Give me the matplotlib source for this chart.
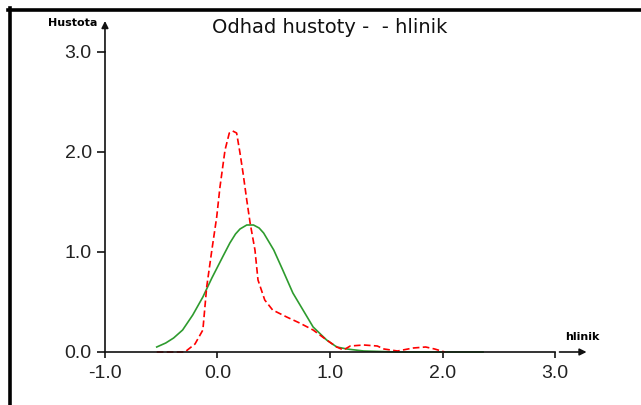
import matplotlib
matplotlib.use("Agg")
from matplotlib import pyplot as plt
from matplotlib.lines import Line2D

plt.rcParams['font.family'] = ['Liberation Sans', 'DejaVu Sans']

# red dashed density estimate
red_x = [-0.54, -0.29, -0.2, -0.13, -0.096, -0.05, -0.007, 0.022, 0.067, 0.105, 0.135,
         0.17, 0.2, 0.227, 0.26, 0.29, 0.333, 0.36, 0.42, 0.49, 0.615, 0.73, 0.85,
         0.97, 1.06, 1.12, 1.18, 1.3, 1.42, 1.48, 1.6, 1.74, 1.85, 1.93, 2.02]
red_y = [0.0, 0.0, 0.08, 0.22, 0.65, 1.02, 1.35, 1.65, 2.02, 2.19, 2.21,
         2.19, 1.99, 1.79, 1.52, 1.29, 1.02, 0.72, 0.52, 0.42, 0.35, 0.29, 0.22,
         0.12, 0.05, 0.02, 0.06, 0.07, 0.06, 0.03, 0.01, 0.04, 0.05, 0.03, 0.0]

# green solid density estimate
green_x = [-0.54, -0.46, -0.39, -0.31, -0.22, -0.13, -0.05, 0.0, 0.05, 0.11, 0.16, 0.2,
           0.26, 0.32, 0.37, 0.41, 0.5, 0.58, 0.67, 0.76, 0.85, 0.97, 1.06, 1.15,
           1.3, 1.6, 2.0, 2.36]
green_y = [0.05, 0.09, 0.14, 0.22, 0.37, 0.55, 0.74, 0.85, 0.96, 1.09, 1.18, 1.23,
           1.27, 1.27, 1.24, 1.19, 1.02, 0.82, 0.59, 0.42, 0.25, 0.12, 0.05, 0.03,
           0.01, 0.0, 0.0, 0.0]

x_ticks = [-1.0, 0.0, 1.0, 2.0, 3.0]
y_ticks = [0.0, 1.0, 2.0, 3.0]

fig = plt.figure(figsize=(6.41, 4.05), dpi=100)
ax = fig.add_axes([0, 0, 1, 1])
ax.set_xlim(-1.933, 3.764)
ax.set_ylim(-0.53, 3.52)

ax.plot(green_x, green_y, color='#2e9b2e', lw=1.2)
ax.plot(red_x, red_y, color='#ff0000', lw=1.2, dashes=(4, 2))

for s in ['top', 'right']:
    ax.spines[s].set_visible(False)
ax.spines['left'].set_position(('data', -1.0))
ax.spines['bottom'].set_position(('data', 0.0))
ax.spines['left'].set_bounds(0, 3.0)
ax.spines['bottom'].set_bounds(-1.0, 3.0)
for s in ['left', 'bottom']:
    ax.spines[s].set_linewidth(1.2)
    ax.spines[s].set_color('#111111')

ax.set_xticks(x_ticks)
ax.set_xticklabels([f"{v:.1f}" for v in x_ticks])
ax.set_yticks(y_ticks)
ax.set_yticklabels([f"{v:.1f}" for v in y_ticks])
ax.tick_params(axis='x', direction='out', length=4.5, width=1.1, pad=4.5,
               labelsize=14, labelcolor='#222222')
ax.tick_params(axis='y', direction='out', length=5.5, width=1.1, pad=4,
               labelsize=14, labelcolor='#222222')

# axis arrows
arrow = dict(arrowstyle='-|>', color='#111111', lw=1.2, mutation_scale=10,
             shrinkA=0, shrinkB=0)
ax.annotate('', xy=(-1.0, 3.31), xytext=(-1.0, 3.0), arrowprops=arrow)
ax.annotate('', xy=(3.28, 0.0), xytext=(3.04, 0.0), arrowprops=arrow)

ax.text(-1.07, 3.29, 'Hustota', fontsize=8, fontweight='bold', ha='right', va='center',
        family='DejaVu Sans')
ax.text(3.24, 0.15, 'hlinik', fontsize=8, fontweight='bold', ha='center', va='center',
        family='DejaVu Sans')

fig.text(330 / 641, 1 - 33 / 405, 'Odhad hustoty -  - hlinik', fontsize=14,
         ha='center', va='baseline', family='DejaVu Sans', color='#111111')

# window frame (top and left)
fig.add_artist(Line2D([8 / 641, 1], [1 - 10 / 405, 1 - 10 / 405], color='black', lw=2.6))
fig.add_artist(Line2D([9.5 / 641, 9.5 / 641], [0, 1 - 8 / 405], color='black', lw=2.6))

fig.savefig('out.png', dpi=100)
